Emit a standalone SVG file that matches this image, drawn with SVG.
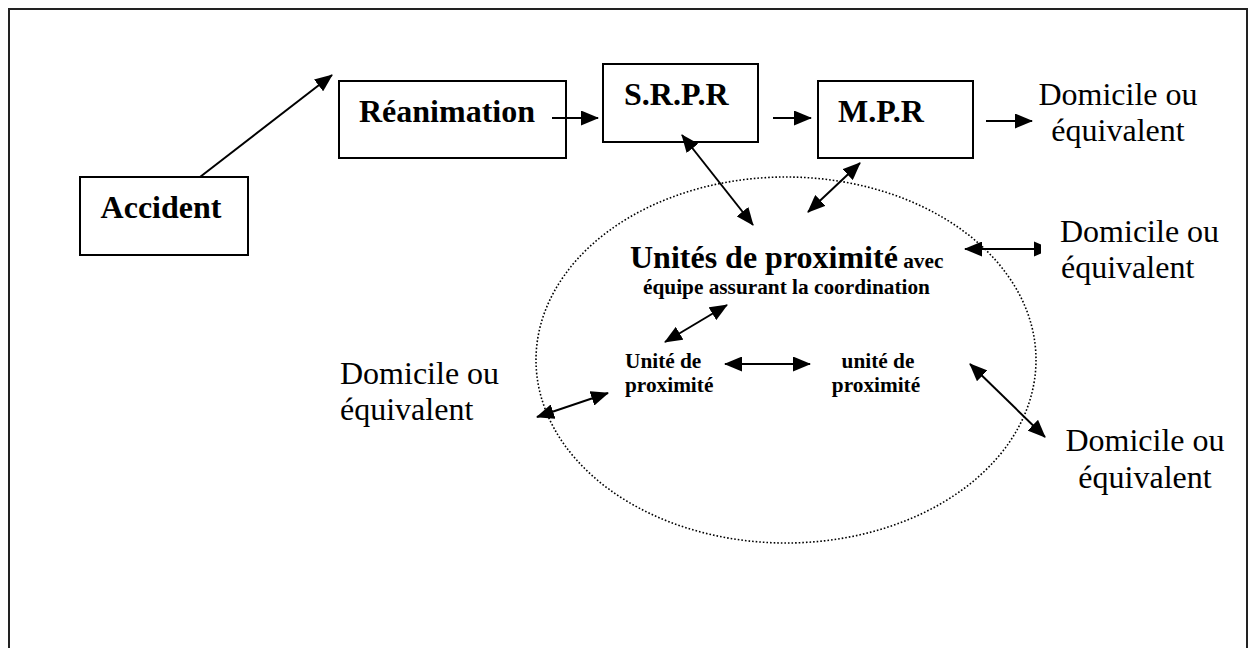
<svg xmlns="http://www.w3.org/2000/svg" width="1256" height="648" viewBox="0 0 1256 648">
<style>
.box{fill:#fff;stroke:#000;stroke-width:2}
.b{font-family:"Liberation Serif","Times New Roman",serif;font-weight:bold;fill:#000}
.r{font-family:"Liberation Serif","Times New Roman",serif;fill:#000}
.big{font-size:32px}
.sm{font-size:21.3px}
.ln{stroke:#000;stroke-width:2;fill:none}
</style>
<defs>
<marker id="ah" viewBox="0 0 18 15" markerWidth="18" markerHeight="15" refX="17" refY="7.5" orient="auto-start-reverse" markerUnits="userSpaceOnUse">
<path d="M0,0 L18,7.5 L0,15 z" fill="#000"/>
</marker>
</defs>
<rect width="1256" height="648" fill="#fff"/>
<path d="M9,648 V9 H1247 V648" fill="none" stroke="#222" stroke-width="2"/>
<ellipse id="unites-ellipse" cx="786" cy="360" rx="250" ry="183" fill="none" stroke="#000" stroke-width="1.6" stroke-dasharray="1.6 2"/>
<g id="accident"><rect class="box" x="80" y="177" width="168" height="78"/><text class="b big" x="161" y="218" text-anchor="middle">Accident</text></g>
<g id="reanimation"><rect class="box" x="339" y="81" width="227" height="77"/><text class="b big" x="359" y="122">Réanimation</text></g>
<g id="srpr"><rect class="box" x="603" y="64" width="155" height="78"/><text class="b big" x="624" y="105">S.R.P.R</text></g>
<g id="mpr"><rect class="box" x="818" y="81" width="155" height="77"/><text class="b big" x="838" y="122">M.P.R</text></g>
<g id="domicile-1"><text class="r big" text-anchor="middle"><tspan x="1118" y="105">Domicile ou</tspan><tspan x="1118" y="141">équivalent</tspan></text></g>
<g id="domicile-2"><text class="r big"><tspan x="1060" y="242">Domicile ou</tspan><tspan x="1061" y="278">équivalent</tspan></text></g>
<g id="domicile-3"><text class="r big"><tspan x="340" y="384">Domicile ou</tspan><tspan x="340" y="420">équivalent</tspan></text></g>
<g id="domicile-4"><text class="r big" text-anchor="middle"><tspan x="1145" y="451">Domicile ou</tspan><tspan x="1145" y="488">équivalent</tspan></text></g>
<g id="unites"><text class="b" x="630" y="268"><tspan class="big">Unités de proximité</tspan><tspan class="sm"> avec</tspan></text><text class="b sm" x="643" y="294">équipe assurant la coordination</text></g>
<g id="unite-1"><text class="b sm"><tspan x="625" y="368">Unité de</tspan><tspan x="625" y="392">proximité</tspan></text></g>
<g id="unite-2"><text class="b sm" text-anchor="middle"><tspan x="878" y="368">unité de</tspan><tspan x="876" y="392">proximité</tspan></text></g>
<g id="connectors">
<line class="ln" x1="200" y1="177" x2="332" y2="75" marker-end="url(#ah)"/>
<line class="ln" x1="552" y1="118" x2="598" y2="118" marker-end="url(#ah)"/>
<line class="ln" x1="773" y1="118" x2="811" y2="118" marker-end="url(#ah)"/>
<line class="ln" x1="986" y1="121" x2="1032" y2="121" marker-end="url(#ah)"/>
<line class="ln" x1="682" y1="135" x2="753" y2="225" marker-start="url(#ah)" marker-end="url(#ah)"/>
<line class="ln" x1="860" y1="163" x2="808" y2="212" marker-start="url(#ah)" marker-end="url(#ah)"/>
<line class="ln" x1="965" y1="249" x2="1036" y2="249" marker-start="url(#ah)"/>
<polygon points="1034,241.5 1041,244.5 1041,253.5 1034,256.5" fill="#000"/>
<line class="ln" x1="727" y1="305" x2="665" y2="342" marker-start="url(#ah)" marker-end="url(#ah)"/>
<line class="ln" x1="537" y1="417" x2="608" y2="393" marker-start="url(#ah)" marker-end="url(#ah)"/>
<line class="ln" x1="725" y1="364" x2="810" y2="364" marker-start="url(#ah)" marker-end="url(#ah)"/>
<line class="ln" x1="970" y1="364" x2="1045" y2="437" marker-start="url(#ah)" marker-end="url(#ah)"/>
</g>
</svg>
